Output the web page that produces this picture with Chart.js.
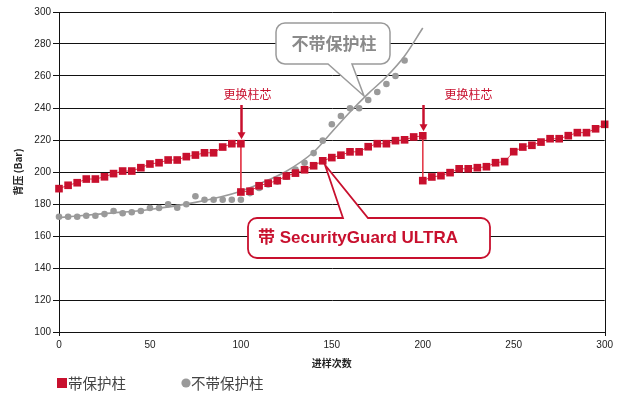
<!DOCTYPE html>
<html><head><meta charset="utf-8">
<script src="https://cdn.jsdelivr.net/npm/chart.js@4/dist/chart.umd.min.js"></script>
<style>html,body{margin:0;padding:0;background:#fff}#wrap{position:relative;width:620px;height:398px}canvas{display:block}</style>
</head><body><div id="wrap"><canvas id="c" width="620" height="398"></canvas></div>
<script>
// ---- data ----
const guardRuns = [0,5,10,15,20,25,30,35,40,45,50,55,60,65,70,75,80,85,90,95,100,
  100,105,110,115,120,125,130,135,140,145,150,155,160,165,170,175,180,185,190,195,200,
  200,205,210,215,220,225,230,235,240,245,250,255,260,265,270,275,280,285,290,295,300];
const guardPressure = [189.6,191.7,193.3,195.6,195.6,197,199,200.6,200.6,202.7,205,205.8,207.5,207.5,209.6,210.6,212,212,215.6,217.7,217.7,
  187.5,188,191.4,193,194.6,197.5,199.3,201.4,203.9,207,209,210.5,212.6,212.6,215.8,217.7,217.7,219.6,220.1,221.9,222.6,
  194.6,196.9,197.7,199.6,202,202,202.7,203.3,205.8,206.5,212.7,215.6,216.7,218.7,220.8,220.8,222.7,224.6,224.6,227,229.8];
const noGuardRuns = [0,5,10,15,20,25,30,35,40,45,50,55,60,65,70,75,80,85,90,95,100,
  105,110,115,120,125,130,135,140,145,150,155,160,165,170,175,180,185,190];
const noGuardPressure = [172,172,172,172.7,172.7,173.7,175.6,174.2,174.8,175.6,177.5,177.5,179.8,177.7,179.8,184.8,182.7,182.7,182.7,182.7,182.7,
  186.8,190,192.2,194,197,201.5,205.8,211.8,219.6,229.8,235,239.8,239.8,245,250,255,260,269.7];
const trendRuns = [0,25,50,75,100,115,125,140,150,160,170,180,190,200];
const trendPressure = [171.5,174,176.6,181,188,195,200.5,212.5,225,237.5,249,259.5,272.5,290];
const xTickValues = [0,50,100,150,200,250,300];
const yTickValues = [100,120,140,160,180,200,220,240,260,280,300];
const seriesNames = ['带保护柱','不带保护柱'];
const changeRuns = [100,200];
const changeLabel = '更换柱芯';
const xTitle = '进样次数';
const yTitle = '背压 (Bar)';
const calloutGray = '不带保护柱';
const calloutRed = '带 SecurityGuard ULTRA';

const RED = '#c8102e', REDLINE = '#e33a4a', GRAY = '#9a9a9a';
const SANS = '"Liberation Sans", Arial, "Noto Sans CJK SC", sans-serif';
const CJK = '"Noto Sans CJK SC", "Liberation Sans", sans-serif';

const pts = (xs, ys) => xs.map((v, i) => ({x: v, y: ys[i]}));

function roundRectTail(ctx, l, t, r, b, rad, tail, edge) {
  ctx.beginPath();
  ctx.moveTo(l + rad, t);
  if (edge === 'top') { ctx.lineTo(tail[0], t); ctx.lineTo(tail[1], tail[2]); ctx.lineTo(tail[3], t); }
  ctx.lineTo(r - rad, t);
  ctx.arcTo(r, t, r, t + rad, rad);
  ctx.lineTo(r, b - rad);
  ctx.arcTo(r, b, r - rad, b, rad);
  if (edge === 'bottom') { ctx.lineTo(tail[3], b); ctx.lineTo(tail[1], tail[2]); ctx.lineTo(tail[0], b); }
  ctx.lineTo(l + rad, b);
  ctx.arcTo(l, b, l, b - rad, rad);
  ctx.lineTo(l, t + rad);
  ctx.arcTo(l, t, l + rad, t, rad);
  ctx.closePath();
}

const annotations = {
  id: 'annotations',
  afterDatasetsDraw(chart) {
    const {ctx, scales: {x, y}, chartArea: ca} = chart;
    ctx.save();
    // right frame line
    ctx.strokeStyle = '#111'; ctx.lineWidth = 1;
    const rx = Math.round(ca.right) + 0.5;
    ctx.beginPath(); ctx.moveTo(rx, ca.top); ctx.lineTo(rx, ca.bottom + 4); ctx.stroke();
    const lx = Math.round(ca.left) + 0.5;
    ctx.beginPath(); ctx.moveTo(lx, ca.bottom); ctx.lineTo(lx, ca.bottom + 4); ctx.stroke();

    // column change arrows
    const labelShift = [6, 45];
    changeRuns.forEach((run, k) => {
      const px = Math.round(x.getPixelForValue(run)) + 0.5;
      const idx = guardRuns.indexOf(run);
      const tip = y.getPixelForValue(guardPressure[idx]) - 4.5;
      ctx.strokeStyle = RED; ctx.fillStyle = RED; ctx.lineWidth = 2.5;
      ctx.beginPath(); ctx.moveTo(px, 105); ctx.lineTo(px, tip - 6); ctx.stroke();
      ctx.beginPath(); ctx.moveTo(px - 4, tip - 7); ctx.lineTo(px + 4, tip - 7); ctx.lineTo(px, tip); ctx.closePath(); ctx.fill();
      ctx.font = '12px ' + CJK; ctx.textAlign = 'center'; ctx.textBaseline = 'middle';
      ctx.fillText(changeLabel, px + labelShift[k], 94);
    });

    // gray callout
    ctx.lineWidth = 1.5; ctx.strokeStyle = '#9a9a9a'; ctx.fillStyle = '#fff';
    roundRectTail(ctx, 276, 23, 390, 64, 9, [328, 364, 96, 352], 'bottom');
    ctx.fill(); ctx.stroke();
    ctx.fillStyle = '#8a8a8a'; ctx.font = 'bold 17px ' + CJK; ctx.textAlign = 'center'; ctx.textBaseline = 'middle';
    ctx.fillText(calloutGray, 334, 44);

    // red callout
    ctx.lineWidth = 1.8; ctx.strokeStyle = RED; ctx.fillStyle = '#fff';
    roundRectTail(ctx, 248, 218, 490, 258, 9, [343, 325, 165, 368], 'top');
    ctx.fill(); ctx.stroke();
    ctx.fillStyle = RED; ctx.font = 'bold 17px ' + SANS; ctx.textAlign = 'left'; ctx.textBaseline = 'middle';
    ctx.fillText(calloutRed, 258, 238);

    // legend
    ctx.fillStyle = RED; ctx.fillRect(57, 378, 10, 10);
    ctx.fillStyle = '#444'; ctx.font = '14.5px ' + CJK; ctx.textAlign = 'left'; ctx.textBaseline = 'middle';
    ctx.fillText(seriesNames[0], 68, 383);
    ctx.fillStyle = GRAY; ctx.beginPath(); ctx.arc(186, 383, 4.6, 0, Math.PI * 2); ctx.fill();
    ctx.fillStyle = '#444';
    ctx.fillText(seriesNames[1], 191, 383);
    ctx.restore();
  }
};

new Chart(document.getElementById('c'), {
  type: 'scatter',
  data: {
    datasets: [
      {
        label: seriesNames[0], data: pts(guardRuns, guardPressure), showLine: true, clip: false,
        borderColor: REDLINE, borderWidth: 1, backgroundColor: RED, pointBackgroundColor: RED,
        pointBorderWidth: 0, pointStyle: 'rect', pointRadius: 5.4, tension: 0
      },
      {
        label: seriesNames[1], data: pts(noGuardRuns, noGuardPressure), showLine: false, clip: false,
        backgroundColor: GRAY, pointBackgroundColor: GRAY, pointBorderWidth: 0, pointRadius: 3.3
      },
      {
        label: 'trend', data: pts(trendRuns, trendPressure), showLine: true, clip: false,
        borderColor: '#9a9a9a', borderWidth: 1.6, pointRadius: 0, cubicInterpolationMode: 'monotone'
      }
    ]
  },
  options: {
    responsive: false, animation: false, devicePixelRatio: 1,
    layout: { padding: { left: 0, right: 14, top: 12, bottom: 0 } },
    plugins: { legend: { display: false }, tooltip: { enabled: false } },
    scales: {
      x: {
        type: 'linear', min: 0, max: 300,
        afterBuildTicks: s => { s.ticks = xTickValues.map(v => ({value: v})); },
        afterFit: s => { s.height = 66; },
        grid: { display: false, drawTicks: false },
        border: { display: true, color: '#111', width: 1 },
        ticks: { color: '#222', font: { family: SANS, size: 10 }, padding: 7, maxRotation: 0 },
        title: { display: true, text: xTitle, color: '#222', font: { family: CJK, size: 10, weight: 'bold' }, padding: { top: 0, bottom: 29 } }
      },
      y: {
        type: 'linear', min: 100, max: 300,
        afterBuildTicks: s => { s.ticks = yTickValues.map(v => ({value: v})); },
        afterFit: s => { s.width = 59; },
        grid: { color: '#111', lineWidth: 1, drawTicks: true, tickLength: 6, tickColor: '#111' },
        border: { display: true, color: '#111', width: 1 },
        ticks: { color: '#222', font: { family: SANS, size: 10 }, padding: 2 },
        title: { display: true, text: yTitle, color: '#222', font: { family: CJK, size: 10, weight: 'bold' }, padding: { top: 12, bottom: 0 } }
      }
    }
  },
  plugins: [annotations]
});
</script>
</body></html>
